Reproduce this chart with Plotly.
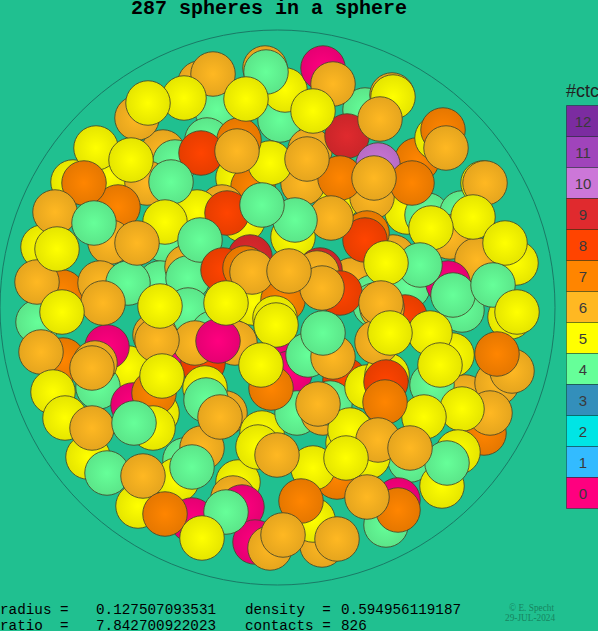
import plotly.graph_objects as go

# Sphere projections in paint order (back to front), pixel-like units of the chart
sphere_x = [200,265,217,207,163,137,175,73,110,147,118,280,285,238,253,222,197,243,110,165,
            43,62,100,160,187,128,188,188,253,283,365,392,310,417,437,398,407,427,462,483,
            337,303,372,293,450,477,393,352,373,408,448,510,462,38,63,155,213,235,173,203,195,
            287,290,345,405,128,107,98,157,133,225,185,202,262,297,323,330,367,348,350,465,
            452,430,432,387,375,382,410,368,337,313,177,238,233,242,192,138,255,270,322,386,
            398,88,107,270,239,275]
sphere_y = [83,68,110,140,152,118,162,182,175,183,207,120,90,178,187,207,212,220,242,240,
            247,292,283,283,267,283,278,310,303,300,110,95,150,160,138,190,212,215,213,183,
            200,183,197,237,237,260,257,280,297,287,283,317,310,322,360,335,333,343,358,363,343,
            363,373,380,317,368,347,387,413,405,413,460,448,433,413,413,403,387,443,430,397,
            355,333,385,375,305,308,460,457,477,468,480,482,498,507,520,506,542,548,545,525,
            500,457,473,163,140,318]
sphere_ctc = [6,6,4,4,6,6,4,5,5,6,7,4,5,5,7,6,5,5,6,4,
              5,7,6,4,6,4,4,4,5,7,4,6,6,7,5,5,5,4,4,5,
              5,6,6,5,6,6,6,6,4,4,0,5,4,4,7,6,4,6,0,8,6,
              0,0,8,8,5,0,4,5,0,6,4,6,5,4,6,4,5,5,5,6,
              5,5,4,5,4,6,4,5,7,5,5,5,6,0,0,5,0,6,6,4,
              0,5,4,5,7,5]

front_x = [323,333,393,347,313,380,443,446,378,340,307,412,374,485,473,431,516,505,420,453,
           493,517,367,365,331,295,386,213,266,184,148,246,201,237,96,131,84,171,55,94,
           227,262,165,200,137,37,57,250,223,245,252,320,317,340,322,289,103,62,41,95,
           92,157,154,162,53,65,92,153,134,205,206,220,218,226,160,276,308,333,323,377,
           381,390,440,497,512,497,484,490,462,424,386,385,458,442,447,378,410,346,318,258,
           277,192,143,398,367,165,226,202,313,301,283,337,271,261]
front_y = [68,84,97,136,111,119,130,148,165,178,159,183,178,183,217,228,263,243,265,295,
           285,312,233,240,218,220,263,74,72,98,103,99,153,151,148,160,183,182,212,223,
           213,205,222,240,243,282,249,257,270,268,272,270,273,293,288,271,303,312,352,363,
           368,340,393,376,392,418,428,428,423,388,400,417,341,303,306,325,355,357,333,342,
           303,333,365,383,371,354,433,413,409,417,382,402,452,486,463,440,448,458,404,447,
           455,467,476,510,497,514,512,538,520,501,535,539,388,365]
front_ctc = [0,6,5,9,5,6,7,6,10,7,6,7,6,6,5,5,5,5,4,4,
             4,5,7,8,6,4,5,6,4,5,5,5,8,6,5,5,7,4,6,4,
             8,4,5,4,6,6,5,9,8,7,6,9,6,8,6,6,6,5,6,6,
             6,6,7,5,5,5,6,5,4,5,4,6,0,5,5,5,4,6,4,6,
             6,5,5,6,6,7,7,6,5,5,8,7,5,5,4,6,6,5,6,5,
             6,4,6,7,6,7,4,5,5,7,6,6,7,5]

ctc_levels = [12,11,10,9,8,7,6,5,4,3,2,1,0]
ctc_colors = {12:"#7B2CA0",11:"#A044BB",10:"#CC77D8",9:"#E02A2E",8:"#FF4400",7:"#FF8500",6:"#FFB822",
              5:"#FFFF00",4:"#66FF99",3:"#338FBB",2:"#00E5E5",1:"#33BBFF",0:"#FF007F"}

title_text = "287 spheres in a sphere"
stats_left = [("radius =","0.127507093531"),("ratio  =","7.842700922023")]
stats_right = [("density  =","0.594956119187"),("contacts =","826")]
credit_lines = ["© E. Specht","29-JUL-2024"]

BG = "#20C090"
CX, CY, R = 277.5, 307.5, 277.5
MONO = "Liberation Mono, Courier New, monospace"

def darken(hex_color, f=0.90):
    r, g, b = (int(hex_color[i:i+2], 16) for i in (1, 3, 5))
    return f"rgb({int(r*f)},{int(g*f)},{int(b*f)})"

all_x = sphere_x + front_x
all_y = sphere_y + front_y
all_c = sphere_ctc + front_ctc
assert len(all_x) == len(all_y) == len(all_c)

fig = go.Figure()
fig.add_trace(go.Scatter(
    x=all_x, y=all_y, mode="markers", hoverinfo="skip", showlegend=False,
    marker=dict(size=44.5, symbol="circle",
                color=[darken(ctc_colors[c]) for c in all_c],
                gradient=dict(type="radial", color=[ctc_colors[c] for c in all_c]),
                line=dict(width=1, color="rgba(70,70,40,0.85)")),
))
fig.add_trace(go.Bar(
    x=[583]*len(ctc_levels), y=[31]*len(ctc_levels),
    base=[105.5+31*i for i in range(len(ctc_levels))], width=33,
    marker=dict(color=[ctc_colors[c] for c in ctc_levels],
                line=dict(width=1, color="rgba(0,0,0,0.35)")),
    text=[str(c) for c in ctc_levels], textposition="inside", insidetextanchor="middle",
    textangle=0, constraintext="none",
    textfont=dict(family="Liberation Sans, Arial, sans-serif", size=15, color="#3a3a3a"),
    hoverinfo="skip", showlegend=False,
))

fig.add_shape(type="circle", x0=CX-R, x1=CX+R, y0=CY-R, y1=CY+R, xref="x", yref="y",
              line=dict(color="#1A7A66", width=1), layer="below")

ann = []
def label(x, y, text, size, font=MONO, color="#000000", anchor="left", bold=False):
    t = f"<b>{text}</b>" if bold else text
    ann.append(dict(x=x, y=y, text=t, xref="x", yref="y", showarrow=False, xanchor=anchor,
                    yanchor="middle", align="left", font=dict(family=font, size=size, color=color),
                    borderpad=0, borderwidth=0))

label(269, 8, title_text, 20, anchor="center", bold=True)
for i, (a, b) in enumerate(stats_left):
    label(0, 610+15.5*i, a, 14.3)
    label(96, 610+15.5*i, b, 14.3)
for i, (a, b) in enumerate(stats_right):
    label(245, 610+15.5*i, a, 14.3)
    label(341, 610+15.5*i, b, 14.3)
label(531, 608, credit_lines[0], 9.3, font="Liberation Serif, serif", color="#16855F", anchor="center")
label(530, 618, credit_lines[1], 9.3, font="Liberation Serif, serif", color="#16855F", anchor="center")
label(566, 91, "#ctc", 18, font="Liberation Sans, Arial, sans-serif", color="#222222")

fig.update_layout(
    width=598, height=631, margin=dict(l=0, r=0, t=0, b=0),
    paper_bgcolor=BG, plot_bgcolor=BG, annotations=ann, bargap=0,
    xaxis=dict(range=[0, 598], visible=False, fixedrange=True),
    yaxis=dict(range=[631, 0], visible=False, fixedrange=True),
)
fig.write_html("out.html", config={"displayModeBar": False},
               post_script="document.body.style.margin='0';document.body.style.overflow='hidden';"
                           "document.body.style.background='" + BG + "';")
